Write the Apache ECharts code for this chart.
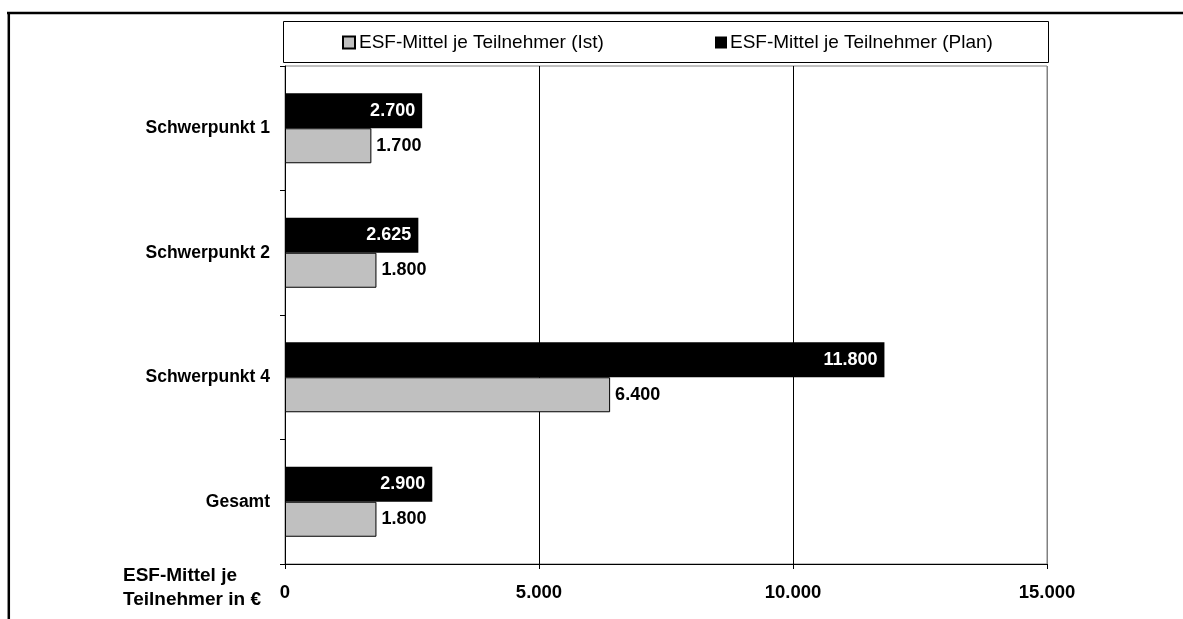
<!DOCTYPE html>
<html>
<head>
<meta charset="utf-8">
<script src="https://cdn.jsdelivr.net/npm/echarts@6/dist/echarts.min.js"></script>
<style>
html,body{margin:0;padding:0;background:#fff;}
#chart{width:1183px;height:619px;}
</style>
</head>
<body>
<div id="chart"></div>
<script>
const categories = ['Schwerpunkt 1', 'Schwerpunkt 2', 'Schwerpunkt 4', 'Gesamt'];
const istValues = [1700, 1800, 6400, 1800];
const planValues = [2700, 2625, 11800, 2900];
const seriesNames = ['ESF-Mittel je Teilnehmer (Ist)', 'ESF-Mittel je Teilnehmer (Plan)'];
const xTicks = [0, 5000, 10000, 15000];
const axisTitle = 'ESF-Mittel je\nTeilnehmer in €';

const FONT = '"Liberation Sans", Arial, sans-serif';
function fmt(v) {
  return String(v).replace(/\B(?=(\d{3})+(?!\d))/g, '.');
}

const chart = echarts.init(document.getElementById('chart'));
chart.setOption({
  animation: false,
  backgroundColor: '#fff',
  textStyle: { fontFamily: FONT },
  legend: [
    {
      data: [seriesNames[0]], left: 342, top: 33, padding: 0, icon: 'rect',
      itemWidth: 12, itemHeight: 12, itemGap: 0,
      textStyle: { fontFamily: FONT, fontSize: 19, color: '#000', padding: [0, 0, 0, -1] },
      selectedMode: false
    },
    {
      data: [seriesNames[1]], left: 715, top: 33, padding: 0, icon: 'rect',
      itemWidth: 12, itemHeight: 12, itemGap: 0,
      textStyle: { fontFamily: FONT, fontSize: 19, color: '#000', padding: [0, 0, 0, -2] },
      selectedMode: false
    }
  ],
  grid: { left: 285, right: 136, top: 66, bottom: 55, show: true, borderColor: '#808080', borderWidth: 1, containLabel: false },
  xAxis: {
    type: 'value', min: xTicks[0], max: xTicks[xTicks.length - 1], interval: xTicks[1] - xTicks[0],
    axisLine: { show: true, lineStyle: { color: '#000', width: 1 } },
    axisTick: { show: true, length: 5, lineStyle: { color: '#000' } },
    splitLine: { show: true, lineStyle: { color: ['#000', '#000', '#000', '#808080'], width: 1 } },
    axisLabel: { formatter: fmt, fontFamily: FONT, fontWeight: 'bold', fontSize: 18.5, color: '#000', margin: 19 }
  },
  yAxis: {
    type: 'category', data: categories, inverse: true,
    axisLine: { show: true, lineStyle: { color: '#000', width: 1 } },
    axisTick: { show: true, length: 5, lineStyle: { color: '#000' } },
    axisLabel: { fontFamily: FONT, fontWeight: 'bold', fontSize: 17.5, color: '#000', margin: 15 }
  },
  series: [
    {
      name: seriesNames[1], type: 'bar', data: planValues, barWidth: 35, barGap: '0%',
      itemStyle: { color: '#000' },
      label: { show: true, position: 'insideRight', distance: 7, formatter: p => fmt(p.value), fontFamily: FONT, fontWeight: 'bold', fontSize: 18, color: '#fff' }
    },
    {
      name: seriesNames[0], type: 'bar', data: istValues, barWidth: 35, barGap: '0%',
      itemStyle: { color: '#c0c0c0', borderColor: '#000', borderWidth: 1 },
      label: { show: true, position: 'right', distance: 5, formatter: p => fmt(p.value), fontFamily: FONT, fontWeight: 'bold', fontSize: 18, color: '#000' }
    }
  ],
  graphic: [
    { type: 'line', shape: { x1: 7, y1: 13, x2: 1183, y2: 13 }, style: { stroke: '#000', lineWidth: 2.5 }, silent: true },
    { type: 'line', shape: { x1: 8.8, y1: 12, x2: 8.8, y2: 619 }, style: { stroke: '#000', lineWidth: 2.5 }, silent: true },
    { type: 'rect', shape: { x: 283.5, y: 21.5, width: 765, height: 41 }, style: { fill: 'none', stroke: '#000', lineWidth: 1 }, silent: true, z: 0 },
    { type: 'text', left: 123, top: 564, style: { text: axisTitle, font: 'bold 19px ' + FONT, fill: '#000', lineHeight: 24 }, silent: true }
  ]
});
</script>
</body>
</html>
